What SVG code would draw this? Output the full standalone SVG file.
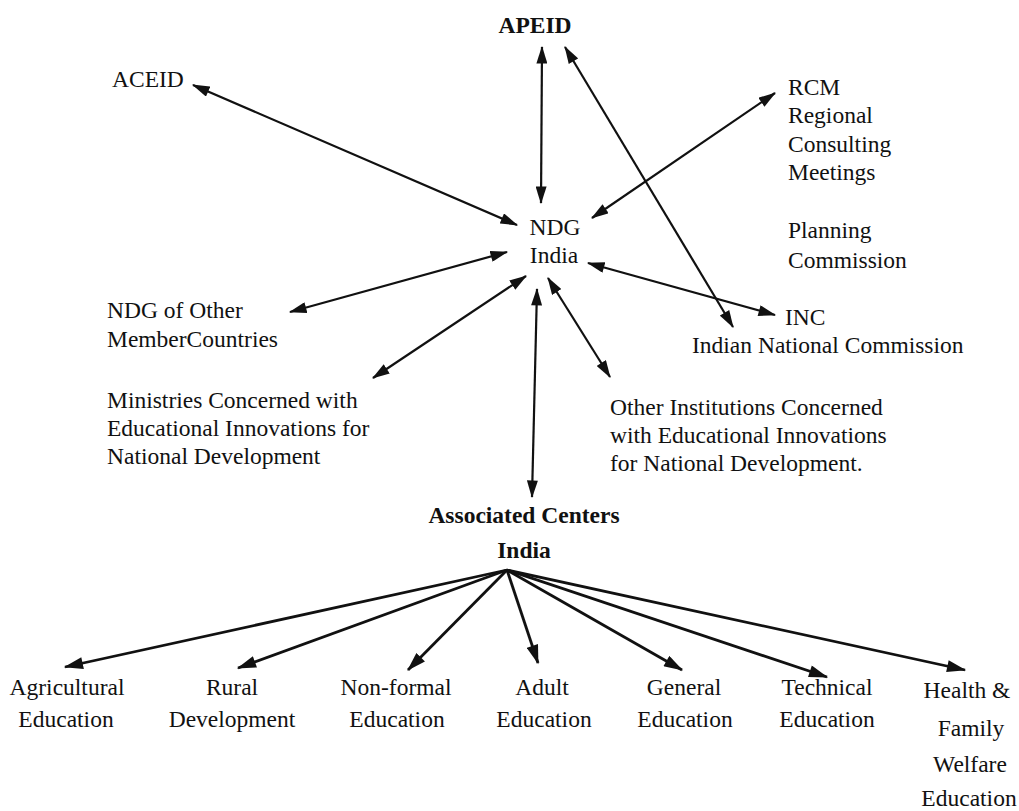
<svg xmlns="http://www.w3.org/2000/svg" width="1019" height="811" viewBox="0 0 1019 811">
<style>
text{font-family:"Liberation Serif","Times New Roman",serif;font-size:23.5px;fill:#111}
.b{font-weight:bold}
.m{text-anchor:middle}
.c{stroke:#111;stroke-width:2.2;fill:none;marker-end:url(#ah);}
.d{marker-start:url(#ah)}
.f{stroke-width:2.8;marker-end:url(#ah2)}
</style>
<defs>
<marker id="ah" viewBox="0 0 16 10" refX="15" refY="5" markerWidth="18" markerHeight="11" markerUnits="userSpaceOnUse" orient="auto-start-reverse"><path d="M0,0 L16,5 L0,10 z" fill="#111"/></marker>
<marker id="ah2" viewBox="0 0 16 10" refX="15" refY="5" markerWidth="20" markerHeight="12" markerUnits="userSpaceOnUse" orient="auto"><path d="M0,0 L16,5 L0,10 z" fill="#111"/></marker>
</defs>
<rect width="1019" height="811" fill="#fff"/>
<g id="connectors">
<line class="c d" x1="542" y1="47" x2="541" y2="203"/>
<line class="c d" x1="565" y1="47" x2="733" y2="327"/>
<line class="c d" x1="193" y1="85" x2="517" y2="225"/>
<line class="c d" x1="775" y1="93" x2="592" y2="218"/>
<line class="c d" x1="588" y1="263" x2="775" y2="315"/>
<line class="c d" x1="507" y1="252" x2="290" y2="312"/>
<line class="c d" x1="526" y1="276" x2="373" y2="378"/>
<line class="c d" x1="548" y1="278" x2="610" y2="377"/>
<line class="c d" x1="537" y1="289" x2="532" y2="497"/>
<line class="c f" x1="507" y1="570" x2="65" y2="667"/>
<line class="c f" x1="507" y1="570" x2="238" y2="668"/>
<line class="c f" x1="507" y1="570" x2="408" y2="670"/>
<line class="c f" x1="507" y1="570" x2="538" y2="663"/>
<line class="c f" x1="507" y1="570" x2="682" y2="670"/>
<line class="c f" x1="507" y1="570" x2="827" y2="677"/>
<line class="c f" x1="507" y1="570" x2="965" y2="670"/>
</g>
<g id="apeid"><text class="b m" x="535" y="33">APEID</text></g>
<g id="aceid"><text x="112" y="87">ACEID</text></g>
<g id="rcm"><text x="788" y="95">RCM</text><text x="788" y="123">Regional</text><text x="788" y="152">Consulting</text><text x="788" y="180">Meetings</text></g>
<g id="planning"><text x="788" y="238">Planning</text><text x="788" y="268">Commission</text></g>
<g id="ndg"><text class="m" x="555" y="235">NDG</text><text class="m" x="554" y="263">India</text></g>
<g id="ndg-other"><text x="107" y="318">NDG of Other</text><text x="107" y="347">MemberCountries</text></g>
<g id="inc"><text x="785" y="325">INC</text><text x="692" y="353">Indian National Commission</text></g>
<g id="ministries"><text x="107" y="408">Ministries Concerned with</text><text x="107" y="436">Educational Innovations for</text><text x="107" y="464">National Development</text></g>
<g id="other-inst"><text x="610" y="415">Other Institutions Concerned</text><text x="610" y="443">with Educational Innovations</text><text x="610" y="471">for National Development.</text></g>
<g id="assoc"><text class="b m" x="524" y="523">Associated Centers</text><text class="b m" x="524" y="558">India</text></g>
<g id="agri"><text class="m" x="67" y="695">Agricultural</text><text class="m" x="66" y="727">Education</text></g>
<g id="rural"><text class="m" x="232" y="695">Rural</text><text class="m" x="232" y="727">Development</text></g>
<g id="nonformal"><text class="m" x="396" y="695">Non-formal</text><text class="m" x="397" y="727">Education</text></g>
<g id="adult"><text class="m" x="542" y="695">Adult</text><text class="m" x="544" y="727">Education</text></g>
<g id="general"><text class="m" x="684" y="695">General</text><text class="m" x="685" y="727">Education</text></g>
<g id="technical"><text class="m" x="827" y="695">Technical</text><text class="m" x="827" y="727">Education</text></g>
<g id="health"><text class="m" x="967" y="698">Health &amp;</text><text class="m" x="971" y="736">Family</text><text class="m" x="970" y="772">Welfare</text><text class="m" x="969" y="806">Education</text></g>
</svg>
